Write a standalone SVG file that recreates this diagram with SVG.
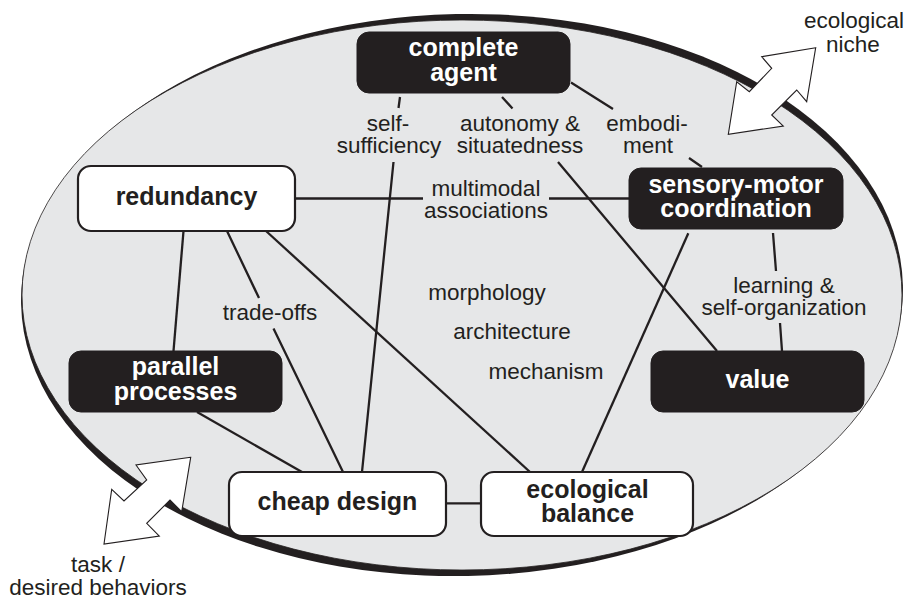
<svg xmlns="http://www.w3.org/2000/svg" width="911" height="599" viewBox="0 0 911 599">
<style>
text{font-family:"Liberation Sans",Arial,Helvetica,sans-serif;fill:#231f20}
.b{font-weight:bold;font-size:25px;text-anchor:middle}
.w{fill:#ffffff}
.r{font-size:22.5px;text-anchor:middle}
.dark{fill:#231f20;stroke:#231f20;stroke-width:1}
.light{fill:#ffffff;stroke:#231f20;stroke-width:2.2}
.ln{stroke:#231f20;stroke-width:2.3;fill:none;stroke-linecap:butt}
.arrow{fill:#ffffff;stroke:#231f20;stroke-width:1.1;stroke-linejoin:miter}
</style>
<rect width="911" height="599" fill="#ffffff"/>
<g id="boundary">
<ellipse cx="462" cy="295" rx="441" ry="281" fill="#231f20" transform="rotate(-1.2 462 295)"/>
<ellipse cx="462" cy="295" rx="440" ry="275" fill="#e6e7e8" stroke="#231f20" stroke-width="0.8"/>
</g>
<g id="connectors">
<path class="ln" d="M400,97 L398.5,108 M393.5,162 L362,472"/>
<path class="ln" d="M502,97 L512.5,108.5 M558,162 L717,351"/>
<path class="ln" d="M571,82.5 L613,109 M689,158 L702,167"/>
<path class="ln" d="M295,198.5 L423,198.5 M549,198.5 L629,198.5"/>
<path class="ln" d="M773,233 L776,271 M780,323 L782,351"/>
<path class="ln" d="M688.3,233.3 L582,472"/>
<path class="ln" d="M183.5,231 L173.5,351"/>
<path class="ln" d="M227,231 L259,298 M273.5,328.5 L343,472"/>
<path class="ln" d="M266,231 L530,472"/>
<path class="ln" d="M197,412 L302,472"/>
<path class="ln" d="M446,503.3 L481,503.3"/>
</g>
<g id="labels">
<text class="r" x="388" y="131">self-</text>
<text class="r" x="389" y="153">sufficiency</text>
<text class="r" x="520" y="131">autonomy &amp;</text>
<text class="r" x="520" y="153">situatedness</text>
<text class="r" x="647" y="131">embodi-</text>
<text class="r" x="648" y="153">ment</text>
<text class="r" x="486" y="196">multimodal</text>
<text class="r" x="486" y="217.5">associations</text>
<text class="r" x="784" y="292.5">learning &amp;</text>
<text class="r" x="784" y="315">self-organization</text>
<text class="r" x="270" y="320">trade-offs</text>
<text class="r" x="487" y="299.5">morphology</text>
<text class="r" x="512" y="338.5">architecture</text>
<text class="r" x="546" y="378.5">mechanism</text>
</g>
<g id="complete-agent">
<rect class="dark" x="357" y="32" width="213" height="61" rx="12"/>
<text class="b w" x="463.5" y="56">complete</text>
<text class="b w" x="463.5" y="81">agent</text>
</g>
<g id="redundancy">
<rect class="light" x="78" y="166" width="217" height="65" rx="13"/>
<text class="b" x="186.5" y="205">redundancy</text>
</g>
<g id="sensory-motor-coordination">
<rect class="dark" x="629" y="168" width="214" height="61" rx="12"/>
<text class="b w" x="736" y="193">sensory-motor</text>
<text class="b w" x="736" y="217">coordination</text>
</g>
<g id="parallel-processes">
<rect class="dark" x="69" y="351" width="213" height="61" rx="12"/>
<text class="b w" x="175.5" y="375">parallel</text>
<text class="b w" x="175.5" y="400">processes</text>
</g>
<g id="value">
<rect class="dark" x="651" y="351" width="213" height="61" rx="12"/>
<text class="b w" x="757.5" y="387.5">value</text>
</g>
<g id="cheap-design">
<rect class="light" x="229" y="472" width="217" height="64" rx="13"/>
<text class="b" x="337.5" y="510">cheap design</text>
</g>
<g id="ecological-balance">
<rect class="light" x="481" y="472" width="212" height="64" rx="13"/>
<text class="b" x="587.5" y="497.5">ecological</text>
<text class="b" x="587.5" y="522">balance</text>
</g>
<g id="ecological-niche">
<polygon class="arrow" points="815.7,47.7 761.7,56.7 771.7,68.3 749.3,91.7 736.7,81.7 728.3,134.3 783.3,126 771.7,115 796.7,90 806.7,101.7"/>
<text class="r" x="854" y="28">ecological</text>
<text class="r" x="853" y="52">niche</text>
</g>
<g id="task-desired-behaviors">
<polygon class="arrow" points="190.7,457.3 136,465 146.7,480 124,501 111.7,489.3 104,544 159.3,536 146.7,523.3 170,500 181.7,511.7"/>
<text class="r" x="98" y="572">task /</text>
<text class="r" x="98" y="595">desired behaviors</text>
</g>
</svg>
